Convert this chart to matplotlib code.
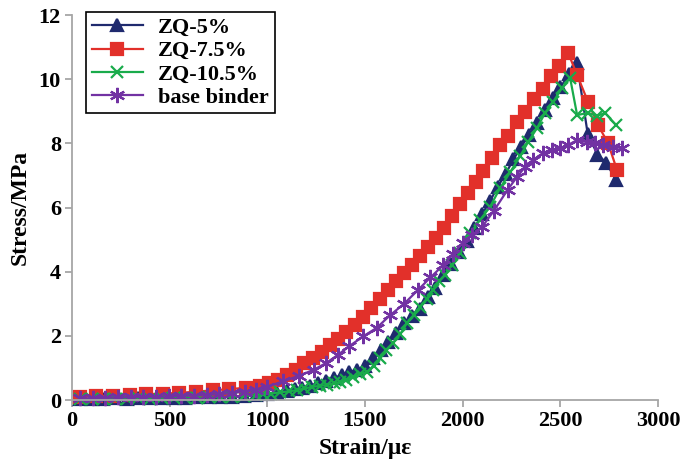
import matplotlib.pyplot as plt

plt.rcParams['font.family'] = ['Liberation Serif', 'DejaVu Serif']
plt.rcParams['font.weight'] = 'bold'

# ── Stress-strain data ───────────────────────
zq5_strain = [40, 100, 160, 220, 280, 340, 400, 460, 520, 580,
              640, 700, 760, 820, 880, 940, 1000, 1050, 1100, 1140,
              1180, 1220, 1260, 1300, 1340, 1380, 1420, 1460, 1500, 1540,
              1580, 1620, 1660, 1700, 1740, 1780, 1820, 1860, 1900, 1940,
              1980, 2020, 2060, 2100, 2140, 2180, 2220, 2260, 2300, 2340,
              2380, 2420, 2460, 2500, 2545, 2585, 2640, 2690, 2735, 2785]
zq5_stress = [0.03, 0.02, 0.04, 0.05, 0.04, 0.05, 0.06, 0.05, 0.06, 0.07,
              0.08, 0.08, 0.10, 0.10, 0.12, 0.15, 0.18, 0.22, 0.27, 0.33,
              0.38, 0.45, 0.52, 0.60, 0.68, 0.78, 0.88, 0.95, 1.05, 1.30,
              1.55, 1.80, 2.10, 2.40, 2.62, 2.85, 3.20, 3.50, 3.90, 4.25,
              4.60, 4.95, 5.35, 5.80, 6.20, 6.65, 7.05, 7.50, 7.90, 8.25,
              8.62, 9.05, 9.40, 9.75, 10.15, 10.50, 8.30, 7.65, 7.40, 6.85]

zq75_strain = [40, 125, 210, 295, 380, 465, 550, 635, 720, 805,
               890, 960, 1010, 1055, 1100, 1147, 1190, 1234, 1278, 1321,
               1362, 1403, 1447, 1490, 1533, 1577, 1618, 1659, 1700, 1740,
               1781, 1822, 1863, 1904, 1945, 1986, 2026, 2066, 2105, 2150,
               2191, 2232, 2278, 2319, 2365, 2412, 2453, 2494, 2540, 2586,
               2642, 2693, 2744, 2790]
zq75_stress = [0.10, 0.12, 0.14, 0.16, 0.18, 0.20, 0.22, 0.26, 0.30, 0.34,
               0.38, 0.44, 0.52, 0.62, 0.78, 0.95, 1.15, 1.32, 1.50, 1.70,
               1.90, 2.12, 2.35, 2.60, 2.88, 3.15, 3.42, 3.72, 3.95, 4.20,
               4.48, 4.78, 5.05, 5.35, 5.75, 6.10, 6.45, 6.80, 7.15, 7.55,
               7.95, 8.23, 8.67, 8.98, 9.38, 9.69, 10.10, 10.41, 10.82, 10.13,
               9.29, 8.57, 8.01, 7.17]

zq105_strain = [40, 100, 160, 220, 280, 340, 400, 460, 520, 580,
                640, 700, 760, 820, 880, 940, 980, 1020, 1065, 1110,
                1152, 1190, 1229, 1268, 1306, 1340, 1372, 1405, 1439, 1475,
                1510, 1545, 1577, 1610, 1643, 1680, 1715, 1750, 1782, 1815,
                1848, 1880, 1910, 1945, 1986, 2038, 2089, 2140, 2191, 2243,
                2294, 2335, 2381, 2422, 2463, 2509, 2550, 2586, 2642, 2688,
                2729, 2785]
zq105_stress = [0.02, 0.03, 0.02, 0.04, 0.03, 0.05, 0.04, 0.05, 0.06, 0.05,
                0.07, 0.08, 0.09, 0.10, 0.12, 0.15, 0.18, 0.20, 0.24, 0.27,
                0.31, 0.36, 0.41, 0.44, 0.47, 0.52, 0.56, 0.63, 0.72, 0.80,
                0.88, 1.05, 1.30, 1.55, 1.78, 2.05, 2.40, 2.65, 2.90, 3.15,
                3.43, 3.70, 3.90, 4.20, 4.58, 5.20, 5.61, 6.02, 6.60, 7.10,
                7.60, 8.04, 8.48, 8.95, 9.29, 9.73, 10.04, 8.88, 8.95, 8.85,
                8.95, 8.57]

base_strain = [40, 105, 170, 235, 300, 365, 430, 495, 560, 625,
               690, 755, 820, 885, 940, 1000, 1080, 1160, 1240, 1300,
               1360, 1420, 1490, 1560, 1630, 1700, 1770, 1835, 1900, 1950,
               2000, 2050, 2100, 2160, 2230, 2278, 2319, 2360, 2412, 2458,
               2498, 2540, 2586, 2637, 2678, 2719, 2770, 2815]
base_stress = [0.06, 0.05, 0.07, 0.08, 0.09, 0.10, 0.10, 0.11, 0.13, 0.14,
               0.16, 0.18, 0.22, 0.26, 0.32, 0.42, 0.58, 0.75, 0.95, 1.15,
               1.40, 1.68, 1.98, 2.25, 2.65, 3.00, 3.42, 3.82, 4.20, 4.55,
               4.90, 5.15, 5.40, 5.90, 6.55, 6.95, 7.26, 7.48, 7.70, 7.80,
               7.85, 7.95, 8.10, 8.04, 8.00, 7.95, 7.89, 7.85]

series = [
    ("ZQ-5%",       zq5_strain,   zq5_stress,   "#1f2a6e", "^", 9),
    ("ZQ-7.5%",     zq75_strain,  zq75_stress,  "#e2302a", "s", 9),
    ("ZQ-10.5%",    zq105_strain, zq105_stress, "#19ab4b", "x", 9),
    ("base binder", base_strain,  base_stress,  "#7232a3", (6, 2, 0), 11),
]

# ── Plot ─────────────────────────────────────
fig = plt.figure(figsize=(6.81, 4.73), dpi=100)
ax = fig.add_axes([72 / 681, 73 / 473, 586 / 681, 385 / 473])

for label, x, y, color, marker, ms in series:
    ax.plot(x, y, color=color, linewidth=1.6, marker=marker, markersize=ms,
            markeredgewidth=1.6, markeredgecolor=color, markerfacecolor=color,
            label=label, clip_on=False)

ax.set_xlim(0, 3000)
ax.set_ylim(0, 12)
ax.set_xticks(range(0, 3001, 500))
ax.set_yticks(range(0, 13, 2))

for side in ("top", "right"):
    ax.spines[side].set_visible(False)
for side in ("left", "bottom"):
    ax.spines[side].set_color("#a6a6a6")
    ax.spines[side].set_linewidth(1.3)

ax.tick_params(axis="both", direction="out", length=5, width=1.3,
               color="#a6a6a6", labelsize=16, pad=3)
for lbl in ax.get_xticklabels() + ax.get_yticklabels():
    lbl.set_fontweight("bold")

ax.set_xlabel("Strain/με", fontsize=17, fontweight="bold", labelpad=5)
ax.set_ylabel("Stress/MPa", fontsize=17, fontweight="bold", labelpad=6)

leg = ax.legend(loc="upper left", bbox_to_anchor=(86 / 681, 1 - 12 / 473),
                bbox_transform=fig.transFigure, borderaxespad=0,
                fancybox=False, framealpha=1, edgecolor="black",
                prop={"size": 16, "weight": "bold"}, handlelength=2.3,
                labelspacing=0.12, borderpad=0.25, handletextpad=0.7)
leg.get_frame().set_linewidth(1.2)

fig.savefig("out.png", dpi=100)
